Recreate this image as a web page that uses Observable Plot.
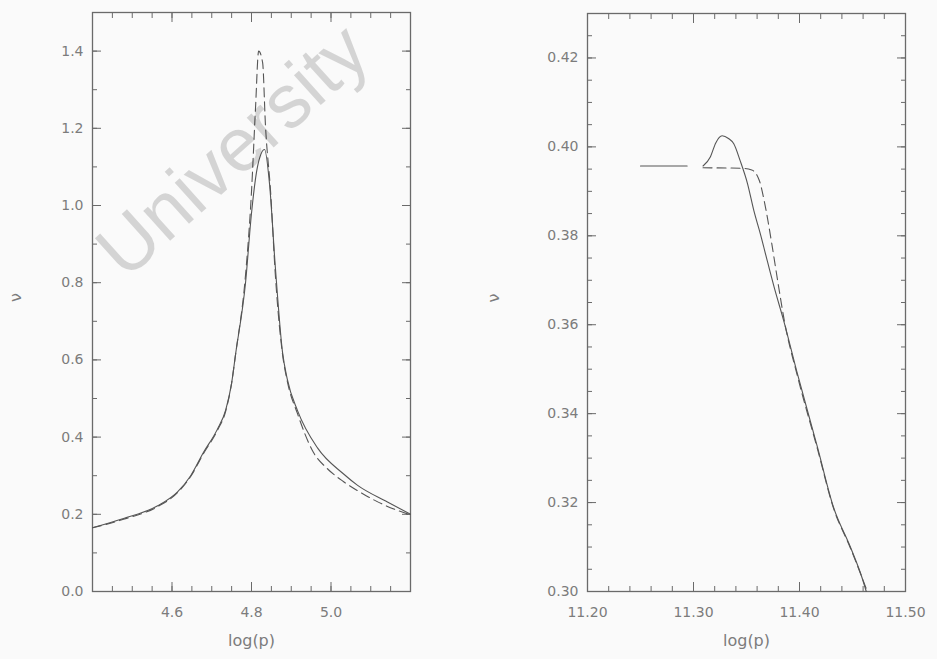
<!DOCTYPE html>
<html><head><meta charset="utf-8">
<script src="https://cdn.jsdelivr.net/npm/d3@7"></script>
<script src="https://cdn.jsdelivr.net/npm/@observablehq/plot@0.6"></script>
<style>
html,body{margin:0;padding:0;background:#fafafa;}
#wrap{position:relative;width:937px;height:659px;overflow:hidden;}
.panel{position:absolute;top:0;}
#wm{position:absolute;left:232px;top:150px;transform:translate(-50%,-50%) rotate(-42deg);font:76px "Liberation Sans",Arial,sans-serif;color:rgba(0,0,0,0.15);white-space:nowrap;pointer-events:none;line-height:1;}
</style></head><body>
<div id="wrap"><div id="left" class="panel" style="left:0"></div><div id="right" class="panel" style="left:470px"></div><div id="wm">University</div></div>
<script>
// ---- Left panel data ----
const leftSolidX  = [4.40,4.478,4.564,4.614,4.647,4.679,4.714,4.735,4.75,4.76,4.785,4.80,4.815,4.833,4.845,4.86,4.878,4.89,4.916,4.966,5.031,5.067,5.142,5.20];
const leftSolidY  = [0.165,0.189,0.222,0.258,0.300,0.36,0.42,0.47,0.54,0.615,0.80,0.98,1.10,1.145,1.06,0.84,0.62,0.55,0.468,0.372,0.305,0.275,0.232,0.20];
const leftDashX   = [4.40,4.478,4.564,4.614,4.647,4.679,4.714,4.735,4.75,4.76,4.785,4.80,4.81,4.818,4.828,4.835,4.848,4.86,4.878,4.89,4.916,4.956,4.991,5.031,5.082,5.132,5.195];
const leftDashY   = [0.165,0.187,0.22,0.256,0.298,0.357,0.417,0.467,0.54,0.615,0.82,1.036,1.25,1.40,1.37,1.21,1.036,0.82,0.615,0.545,0.46,0.36,0.318,0.285,0.252,0.225,0.20];
const leftXTicks  = [4.6, 4.8, 5.0];
const leftXLabels = ["4.6", "4.8", "5.0"];
const leftYTicks  = [0.0, 0.2, 0.4, 0.6, 0.8, 1.0, 1.2, 1.4];
const leftYLabels = ["0.0","0.2","0.4","0.6","0.8","1.0","1.2","1.4"];
// ---- Right panel data ----
const rightSolidX = [11.25,11.294,11.30,11.309,11.316,11.321,11.327,11.333,11.338,11.344,11.351,11.357,11.363,11.37,11.376,11.385,11.398,11.417,11.432,11.448,11.459,11.463];
const rightSolidY = [0.3957,0.3957,null,0.3957,0.3978,0.4009,0.4025,0.4019,0.4007,0.3969,0.3917,0.3856,0.3805,0.374,0.3685,0.361,0.349,0.3324,0.319,0.310,0.3031,0.300];
const rightDashX  = [11.309,11.345,11.355,11.362,11.368,11.374,11.38,11.386,11.398,11.417,11.432,11.448,11.46,11.464];
const rightDashY  = [0.3953,0.3952,0.3948,0.3925,0.3863,0.378,0.369,0.3605,0.3485,0.332,0.3188,0.3098,0.3025,0.300];
const rightXTicks  = [11.20, 11.30, 11.40, 11.50];
const rightXLabels = ["11.20", "11.30", "11.40", "11.50"];
const rightYTicks  = [0.30, 0.32, 0.34, 0.36, 0.38, 0.40, 0.42];
const rightYLabels = ["0.30","0.32","0.34","0.36","0.38","0.40","0.42"];
const xTitle = "log(p)";
const yTitle = "ν";

const ink = "#6a6a6a";
const textCol = "#7c7c7c";

function rows(xs, ys) { return xs.map((x, i) => ({x, y: ys[i]})); }
function lab(ticks, labels) { return v => { const i = ticks.findIndex(t => Math.abs(t - v) < 1e-9); return i >= 0 ? labels[i] : ""; }; }

function panel(o) {
  const major = 9, minor = 5;
  return Plot.plot({
    width: o.width, height: 659,
    marginLeft: o.ml, marginRight: o.mr, marginTop: o.mt, marginBottom: 68,
    style: {background: "transparent", fontFamily: "'DejaVu Sans', sans-serif", fontSize: "14px", color: textCol},
    x: {domain: o.xDomain, label: null},
    y: {domain: o.yDomain, label: null},
    marks: [
      Plot.frame({stroke: ink, strokeWidth: 1.3}),
      Plot.axisX(o.xTicks, {anchor: "bottom", tickSize: -major, tickPadding: 25, tickFormat: lab(o.xTicks, o.xLabels), stroke: ink, fill: textCol, label: null, letterSpacing: 1}),
      Plot.axisY(o.yTicks, {anchor: "left", tickSize: -major, tickPadding: 18, tickFormat: lab(o.yTicks, o.yLabels), stroke: ink, fill: textCol, label: null, letterSpacing: 1}),
      Plot.axisX(o.xTicks, {anchor: "top", tickSize: -major, tickFormat: () => "", stroke: ink, label: null}),
      Plot.axisY(o.yTicks, {anchor: "right", tickSize: -major, tickFormat: () => "", stroke: ink, label: null}),
      Plot.axisX(o.xMinor, {anchor: "bottom", tickSize: -minor, tickFormat: () => "", stroke: ink, label: null}),
      Plot.axisX(o.xMinor, {anchor: "top", tickSize: -minor, tickFormat: () => "", stroke: ink, label: null}),
      Plot.axisY(o.yMinor, {anchor: "left", tickSize: -minor, tickFormat: () => "", stroke: ink, label: null}),
      Plot.axisY(o.yMinor, {anchor: "right", tickSize: -minor, tickFormat: () => "", stroke: ink, label: null}),
      Plot.line(rows(o.solidX, o.solidY), {x: "x", y: "y", stroke: "#555", strokeWidth: 1.1, curve: "monotone-x"}),
      Plot.line(rows(o.dashX, o.dashY), {x: "x", y: "y", stroke: "#555", strokeWidth: 1.1, strokeDasharray: "9,5", curve: "monotone-x"}),
      Plot.text([xTitle], {frameAnchor: "bottom", dy: 54, text: d => d, fill: textCol, fontSize: 16, letterSpacing: 1}),
      Plot.text([yTitle], {frameAnchor: "left", dx: o.ylabDx, text: d => d, fill: textCol, fontSize: 16, rotate: -90})
    ]
  });
}

document.getElementById("left").append(panel({
  width: 460, ml: 92, mr: 50, mt: 12,
  xDomain: [4.4, 5.2], yDomain: [0, 1.5],
  xTicks: leftXTicks, xLabels: leftXLabels, yTicks: leftYTicks, yLabels: leftYLabels,
  xMinor: d3.range(4.45, 5.2, 0.05), yMinor: d3.range(0.1, 1.5, 0.1),
  solidX: leftSolidX, solidY: leftSolidY, dashX: leftDashX, dashY: leftDashY,
  ylabDx: -77
}));
document.getElementById("right").append(panel({
  width: 467, ml: 117, mr: 32, mt: 13,
  xDomain: [11.2, 11.5], yDomain: [0.30, 0.43],
  xTicks: rightXTicks, xLabels: rightXLabels, yTicks: rightYTicks, yLabels: rightYLabels,
  xMinor: d3.range(11.22, 11.5, 0.02), yMinor: d3.range(0.305, 0.43, 0.005),
  solidX: rightSolidX, solidY: rightSolidY, dashX: rightDashX, dashY: rightDashY,
  ylabDx: -94
}));
</script>
</body></html>
